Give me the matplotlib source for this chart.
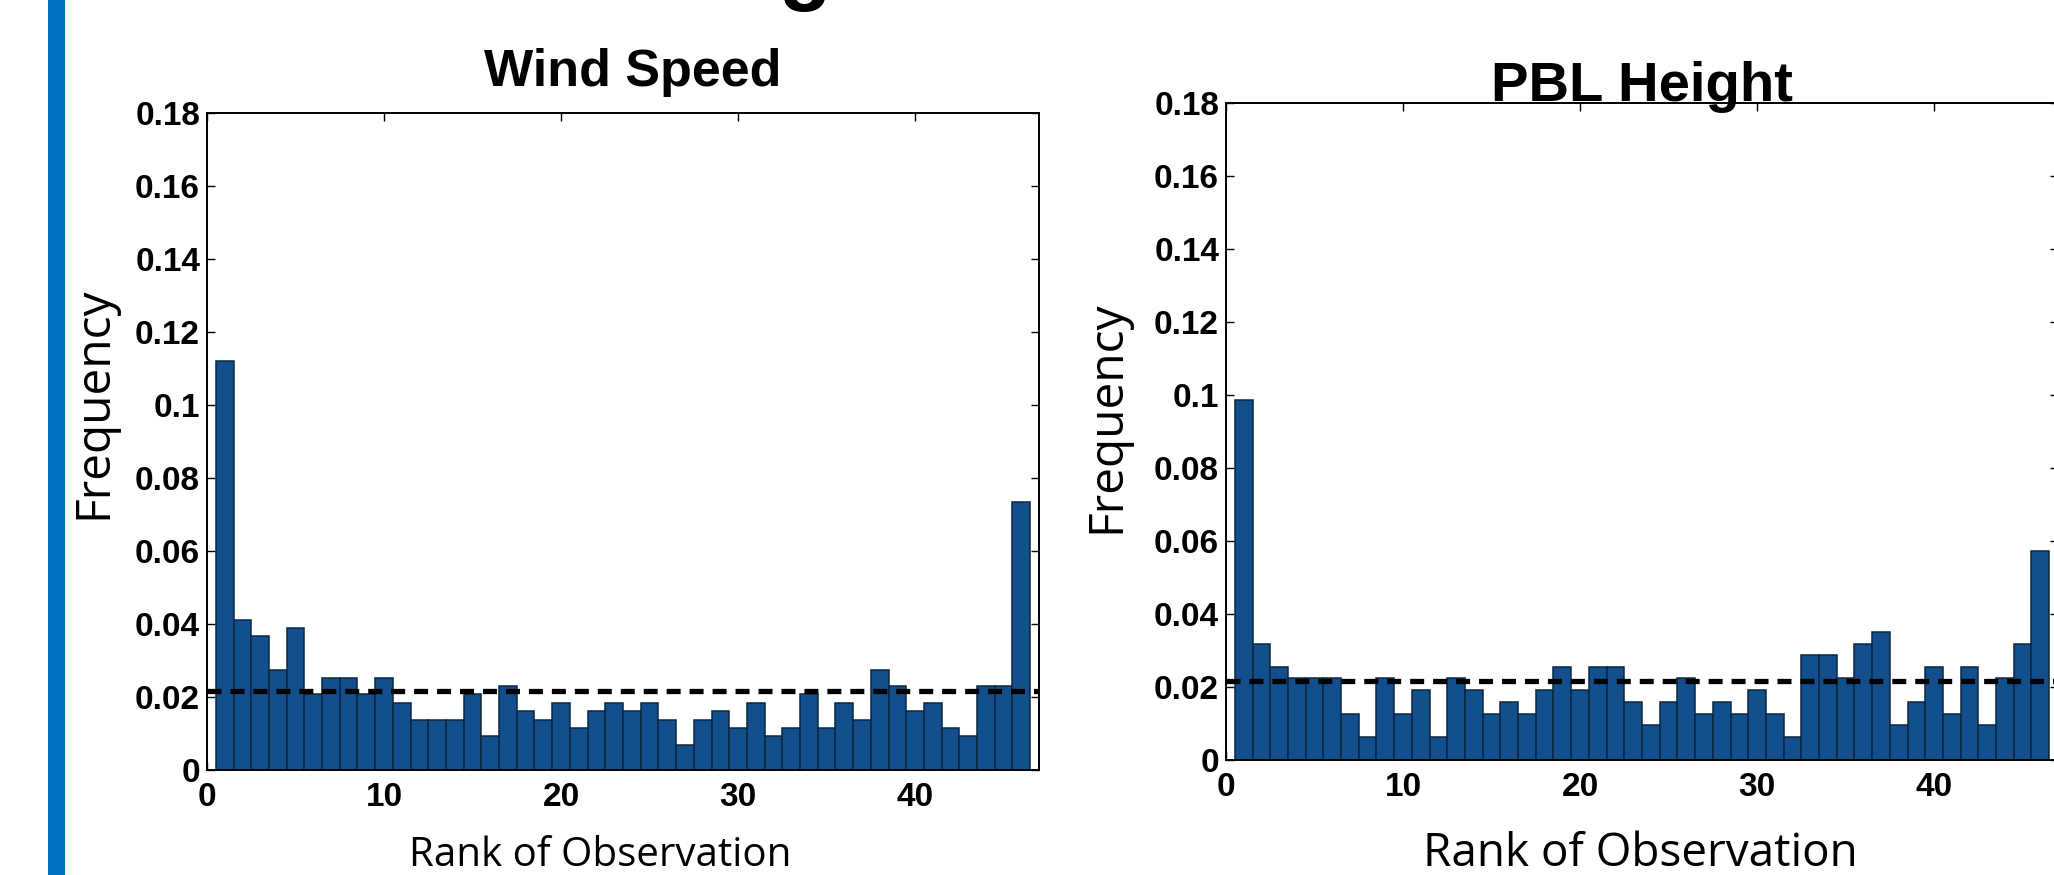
import matplotlib
matplotlib.use("Agg")
import matplotlib.pyplot as plt
from matplotlib.patches import Rectangle
import numpy as np

# ---------------- data ----------------
ranks = list(range(1, 47))
wind_speed = [0.112, 0.041, 0.0366, 0.0275, 0.0389, 0.0208, 0.0251, 0.0251, 0.0208, 0.0251,
              0.0184, 0.0138, 0.0138, 0.0138, 0.0208, 0.0092, 0.0230, 0.0161, 0.0138, 0.0184,
              0.0115, 0.0161, 0.0184, 0.0161, 0.0184, 0.0138, 0.0068, 0.0138, 0.0161, 0.0115,
              0.0184, 0.0092, 0.0115, 0.0208, 0.0115, 0.0184, 0.0138, 0.0275, 0.0230, 0.0161,
              0.0184, 0.0115, 0.0092, 0.0230, 0.0230, 0.0733]
pbl_height = [0.0986, 0.0318, 0.0255, 0.0224, 0.0224, 0.0224, 0.0127, 0.0063, 0.0224, 0.0127,
              0.0191, 0.0063, 0.0224, 0.0191, 0.0127, 0.0159, 0.0127, 0.0191, 0.0255, 0.0191,
              0.0255, 0.0255, 0.0159, 0.0096, 0.0159, 0.0224, 0.0127, 0.0159, 0.0127, 0.0191,
              0.0127, 0.0063, 0.0287, 0.0287, 0.0224, 0.0318, 0.0350, 0.0096, 0.0159, 0.0255,
              0.0127, 0.0255, 0.0096, 0.0224, 0.0318, 0.0573]
uniform_level = 1 / 46
titles = ["Wind Speed", "PBL Height"]
x_ticks = [0, 10, 20, 30, 40]
y_ticks = [0, 0.02, 0.04, 0.06, 0.08, 0.1, 0.12, 0.14, 0.16, 0.18]
y_tick_labels = ["0", "0.02", "0.04", "0.06", "0.08", "0.1", "0.12", "0.14", "0.16", "0.18"]

# ---------------- figure ----------------
W, H = 2054, 875
DPI = 100
fig = plt.figure(figsize=(W / DPI, H / DPI), dpi=DPI)
fig.patch.set_facecolor("white")

def px_axes(left, top, right, bottom):
    return fig.add_axes([left / W, 1 - bottom / H, (right - left) / W, (bottom - top) / H])

# slide accent bar on the left
fig.add_artist(Rectangle((48 / W, 0), 17 / W, 1, transform=fig.transFigure,
                         facecolor="#0070C0", edgecolor="none"))
# descender of the (cut-off) slide heading above the panels
fig.text(805 / W, 1 + 6 / H, "g", ha="center", va="baseline",
         family="Liberation Sans", weight="bold", fontsize=62)

BAR_COLOR = "#134f8c"
TICK_FONT = dict(family="Liberation Sans", weight="bold", size=24)
LABEL_FONT = "Open Sans"

panels = [
    dict(vals=wind_speed, box=(207, 113, 1039, 770), title=titles[0], tsize=37.5,
         title_xy=(633, 86), ylab_xy=(94, 403), xlab_xy=(600, 866), xsize=29),
    dict(vals=pbl_height, box=(1226, 103, 2058, 760), title=titles[1], tsize=40.5,
         title_xy=(1642, 101), ylab_xy=(1107, 417), xlab_xy=(1640, 866), xsize=33),
]

for p in panels:
    ax = px_axes(*p["box"])
    ax.bar(ranks, p["vals"], width=1.0, color=BAR_COLOR, edgecolor="#0b2740",
           linewidth=1.1, zorder=2)
    ax.axhline(uniform_level, color="black", linewidth=3.8,
               linestyle=(0, (2.65, 1.7)), zorder=3)
    ax.set_xlim(0, 47)
    ax.set_ylim(0, 0.18)
    ax.set_xticks(x_ticks)
    ax.set_yticks(y_ticks)
    ax.set_yticklabels(y_tick_labels)
    for lab in ax.get_xticklabels() + ax.get_yticklabels():
        lab.set_fontfamily(TICK_FONT["family"])
        lab.set_fontweight(TICK_FONT["weight"])
        lab.set_fontsize(TICK_FONT["size"])
    ax.tick_params(axis="both", direction="in", length=6, width=1.0,
                   top=True, right=True, colors="black")
    ax.tick_params(axis="x", pad=9)
    ax.tick_params(axis="y", pad=5)
    for s in ax.spines.values():
        s.set_linewidth(1.4)
        s.set_color("black")
    tx, ty = p["title_xy"]
    fig.text(tx / W, 1 - ty / H, p["title"], ha="center", va="baseline",
             family="Liberation Sans", weight="bold", fontsize=p["tsize"])
    yx, yy = p["ylab_xy"]
    fig.text(yx / W, 1 - yy / H, "Frequency", ha="center", va="center",
             rotation=90, family=LABEL_FONT, fontsize=34.5)
    xx, xy = p["xlab_xy"]
    fig.text(xx / W, 1 - xy / H, "Rank of Observation", ha="center", va="baseline",
             family=LABEL_FONT, fontsize=p["xsize"])

fig.savefig("out.png", dpi=DPI)
